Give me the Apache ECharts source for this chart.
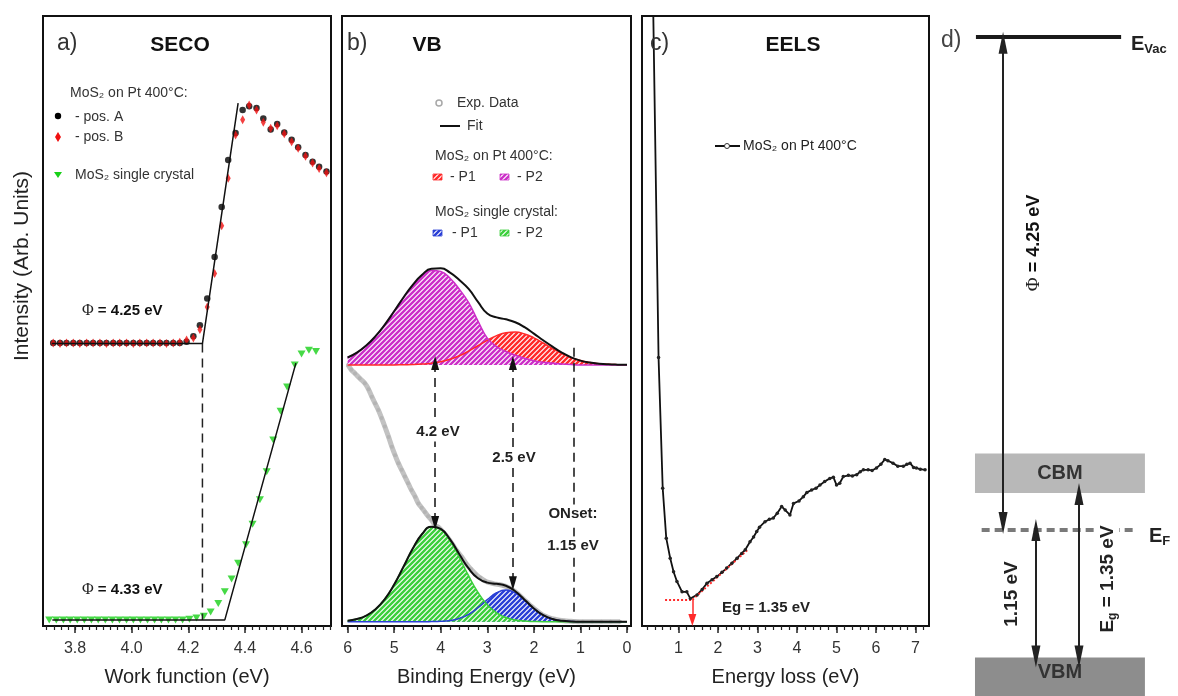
<!DOCTYPE html>
<html>
<head>
<meta charset="utf-8">
<style>
  html, body { margin: 0; padding: 0; background: #fff; }
  #chart { width: 1178px; height: 696px; }
</style>
<script src="https://cdn.jsdelivr.net/npm/echarts@6.0.0/dist/echarts.min.js"></script>
</head>
<body>
<div id="chart"></div>
<script>
// ---------- (a) SECO ----------
const secoPtX = [3.723,3.747,3.770,3.794,3.817,3.841,3.864,3.888,3.911,3.935,3.958,3.982,4.006,4.029,4.053,4.076,4.100,4.123,4.147,4.170,
  4.194,4.218,4.241,4.267,4.293,4.318,4.341,4.367,4.392,4.415,4.441,4.465,4.491,4.514,4.539,4.565,4.588,4.614,4.639,4.662,4.688];
const secoPosA = [46.4,46.4,46.4,46.4,46.4,46.4,46.4,46.4,46.4,46.4,46.4,46.4,46.4,46.4,46.4,46.4,46.4,46.4,46.4,46.4,
  46.6,47.5,49.3,53.7,60.5,68.7,76.4,80.8,84.6,85.2,84.9,83.2,81.4,82.3,80.9,79.7,78.5,77.2,76.1,75.3,74.5];
const secoPosB = [46.4,46.3,46.4,46.4,46.3,46.4,46.4,46.4,46.3,46.4,46.4,46.4,46.3,46.4,46.4,46.4,46.4,46.3,46.4,46.5,
  46.9,47.2,48.6,52.3,57.8,65.6,73.4,80.5,83.0,85.4,84.6,82.6,81.6,82.0,80.7,79.4,78.3,77.0,75.9,75.0,74.3];
const secoScX = [3.709,3.734,3.759,3.783,3.808,3.833,3.858,3.882,3.907,3.932,3.957,3.982,4.006,4.031,4.056,4.081,4.105,4.130,4.155,4.180,
  4.204,4.229,4.255,4.279,4.306,4.329,4.353,4.376,4.404,4.427,4.453,4.477,4.500,4.526,4.549,4.576,4.600,4.626,4.651];
const secoScY = [1.0,1.0,1.0,1.0,1.0,1.0,1.0,1.0,1.0,1.0,1.0,1.0,1.0,1.0,1.0,1.0,1.0,1.0,1.0,1.0,
  1.1,1.3,1.6,2.3,3.7,5.6,7.7,10.3,13.3,16.7,20.7,25.3,30.5,35.2,39.2,42.8,44.6,45.2,45.0];
const secoFitPtX = [3.718, 4.250, 4.376];
const secoFitPtY = [46.3, 46.3, 85.7];
const secoFitScX = [3.720, 4.329, 4.580];
const secoFitScY = [1.0, 1.0, 43.1];
const phiPt = 4.25;
const phiSc = 4.33;
const secoTicks = [3.8, 4.0, 4.2, 4.4, 4.6];

// ---------- (b) VB ----------
const vbX = [6.0,5.8,5.6,5.4,5.2,5.0,4.8,4.6,4.4,4.2,4.0,3.8,3.6,3.4,3.2,3.0,2.8,2.6,2.4,2.2,2.0,1.8,1.6,1.4,1.2,1.0,0.8,0.6,0.4,0.2,0.0];
const ptBase = 42.8;
const ptP2 = [1.21,2.01,3.17,4.71,6.61,8.79,11.03,13.07,14.64,15.49,15.3,14.2,12.4,10.2,7.2,4.4,3.0,2.2,1.6,1.1,0.7,0.45,0.3,0.15,0.05,0,0,0,0,0,0];
const ptP1 = [0,0,0,0,0,0,0.03,0.06,0.14,0.28,0.53,0.93,1.51,2.26,3.14,4.03,4.80,5.28,5.39,5.08,4.44,3.59,2.69,1.87,1.20,0.71,0.39,0.20,0.09,0.04,0.02];
const ptFit = [44.01,44.81,45.97,47.51,49.41,51.59,53.86,55.93,57.58,58.57,58.63,57.93,56.71,55.26,53.14,51.23,50.60,50.28,49.79,48.98,47.94,46.84,45.79,44.82,44.05,43.51,43.19,43.00,42.89,42.84,42.82];
const ptExpX = [5.99,5.92,5.84,5.79,5.74,5.68,5.63,5.57,5.52,5.45,5.40,5.34,5.29,5.24,5.18,5.13,5.05,5.00,4.95,4.89,4.84,4.78,4.73,4.68,4.63,4.57,4.52,4.45,4.38,4.30,4.23,4.17,4.12,
  4.05,3.95,3.85,3.75,3.65,3.55,3.45,3.35,3.25,3.15,3.05,2.95,2.85,2.75,2.65,2.55,2.45,2.35,2.25,2.15,2.05,1.95,1.85,1.75,1.65,1.55,1.45,1.35,1.25,1.15,1.05,0.95,0.85,0.75,0.65,0.55,0.45,0.35,0.25,0.15,0.05];
const ptExpY = [95.0,94.0,92.8,91.8,90.9,89.5,87.9,87.3,86.8,84.9,82.8,81.0,80.2,79.4,78.2,76.9,74.8,73.9,72.8,71.7,70.4,69.0,67.7,66.2,64.9,64.0,63.3,62.3,61.4,60.5,59.7,59.1,58.6,
  58.5,58.2,57.7,57.2,56.4,55.6,54.8,53.8,52.8,52.0,51.5,51.2,51.0,50.9,50.7,50.4,50.0,49.5,48.8,47.9,47.0,46.2,45.5,44.8,44.3,43.9,43.5,43.2,43.0,42.9,42.9,42.8,42.8,42.8,42.8,42.8,42.8,42.8,42.8,42.8,42.8];
const scBase = 0.7;
const scP2 = [0.18,0.45,1.01,2.05,3.72,6.10,9.01,11.99,14.38,15.55,15.15,13.30,10.53,7.51,4.82,2.79,1.46,0.69,0.29,0.11,0.04,0,0,0,0,0,0,0,0,0,0];
const scP1 = [0,0,0,0,0,0,0,0,0,0.02,0.06,0.20,0.54,1.22,2.30,3.62,4.75,5.20,4.71,3.50,2.14,1.07,0.44,0.15,0.04,0,0,0,0,0,0];
const scFit = [0.88,1.15,1.71,2.75,4.42,6.80,9.71,12.69,15.08,16.27,15.91,14.20,11.77,9.43,7.82,7.11,6.91,6.59,5.70,4.31,2.88,1.77,1.14,0.85,0.74,0.7,0.7,0.7,0.7,0.7,0.7];
const scExpX = [5.99,5.92,5.84,5.74,5.63,5.55,5.48,5.41,5.34,5.27,5.20,5.12,5.05,4.98,4.91,4.84,4.77,4.70,4.63,4.55,4.48,4.41,4.34,4.27,4.20,4.12,
  4.05,3.95,3.85,3.75,3.65,3.55,3.45,3.35,3.25,3.15,3.05,2.95,2.85,2.75,2.65,2.55,2.45,2.35,2.25,2.15,2.05,1.95,1.85,1.75,1.65,1.55,1.45,1.35,1.25,1.15,1.05,0.95,0.75,0.55,0.35,0.15];
const scExpY = [42.8,42.0,41.4,40.6,39.8,38.8,37.6,36.5,35.4,34.1,32.7,31.0,29.4,28.0,26.7,25.6,24.5,23.4,22.3,21.2,20.1,19.4,18.7,18.0,17.4,16.5,
  16.2,15.4,14.5,13.4,12.3,11.3,10.2,9.3,8.5,7.9,7.4,7.1,6.9,6.8,6.6,6.3,5.9,5.3,4.6,3.9,3.2,2.6,2.0,1.6,1.3,1.1,0.95,0.85,0.8,0.75,0.7,0.7,0.7,0.7,0.7,0.7];
const vbArrowX = [4.12, 2.45];
const vbArrowTop = [43.1, 43.1];
const vbArrowBottom = [16.9, 7.0];
const onsetBE = 1.15;
const onsetSpan = [45.6, 1.5];
const vbTicks = [0, 1, 2, 3, 4, 5, 6];

// ---------- (c) EELS ----------
const eelsX = [0.36,0.495,0.60,0.69,0.79,0.875,0.96,1.09,1.21,1.30,1.47,1.60,1.72,1.85,1.97,2.10,2.22,2.35,2.48,2.60,2.69,2.81,2.90,2.98,3.05,3.19,3.30,3.40,3.50,3.61,3.70,3.82,3.91,4.05,4.16,4.25,4.37,4.48,4.58,4.70,4.83,4.92,5.00,5.08,5.17,5.30,5.40,5.51,5.60,5.68,5.80,5.90,6.01,6.12,6.22,6.30,6.43,6.55,6.69,6.78,6.86,6.95,7.02,7.12,7.24];
const eelsY = [101,44.0,22.6,14.4,11.1,8.9,7.3,5.6,5.6,4.5,5.1,6.0,7.0,7.6,8.1,8.8,9.5,10.3,11.1,11.9,12.5,13.8,14.6,15.5,16.2,17.1,17.5,17.7,18.5,19.6,19.0,18.2,20.1,20.5,21.2,21.9,22.3,22.6,23.1,23.7,24.2,24.4,23.1,23.4,24.5,24.7,24.6,24.8,25.3,25.6,25.6,25.5,25.9,26.5,27.3,27.1,26.7,26.2,26.2,26.5,26.7,26.0,25.9,25.7,25.6];
const eelsFlatX = [0.66, 1.35];
const eelsFlatY = [4.26, 4.26];
const eelsSlopeX = [1.35, 2.75];
const eelsSlopeY = [4.3, 12.5];
const eelsGap = 1.35;
const eelsTicks = [1, 2, 3, 4, 5, 6, 7];

// ---------- (d) band diagram ----------
const eVacLevel = 4.25;
const eFLevel = 0;
const cbmBand = [0.32, 0.66];
const vbmBand = [-1.5, -1.10];
const phiArrowSpan = [4.20, 0.06];
const onsetArrowSpan = [0.0, -1.09];
const gapArrowSpan = [0.31, -1.09];

const FONT = '"Liberation Sans", Arial, sans-serif';
const zip = (xs, ys) => xs.map((x, i) => [x, ys[i]]);
const lift = (base, ys) => vbX.map((x, i) => [x, base + ys[i]]);

function hatch(color) {
  const c = document.createElement('canvas');
  c.width = 5; c.height = 5;
  const g = c.getContext('2d');
  g.fillStyle = '#fff';
  g.fillRect(0, 0, 5, 5);
  g.strokeStyle = color;
  g.lineWidth = 2.4;
  g.beginPath();
  g.moveTo(-1, 1); g.lineTo(1, -1);
  g.moveTo(0, 5); g.lineTo(5, 0);
  g.moveTo(4, 6); g.lineTo(6, 4);
  g.stroke();
  return { image: c, repeat: 'repeat' };
}
const magenta = '#cc2fc8', red = '#ff2a2a', blue = '#2a3fd6', green = '#3ccf3c';

function range(a, b, step) {
  const out = [];
  for (let v = a; v <= b + 1e-9; v += step) out.push(+v.toFixed(3));
  return out;
}

function majorAxis(grid, min, max, ticks, name, dec, inverse) {
  return {
    type: 'value', gridIndex: grid, min, max, inverse: !!inverse, position: 'bottom',
    name, nameLocation: 'middle', nameGap: 41,
    nameTextStyle: { fontSize: 20, color: '#222', fontFamily: FONT },
    axisLine: { show: false }, splitLine: { show: false },
    axisTick: { show: true, customValues: ticks, length: 7, lineStyle: { color: '#222', width: 1.5 } },
    axisLabel: { customValues: ticks, formatter: v => Number(v).toFixed(dec), fontSize: 16, color: '#333', margin: 15, fontFamily: FONT }
  };
}
function minorAxis(grid, min, max, ticks, inverse) {
  return {
    type: 'value', gridIndex: grid, min, max, inverse: !!inverse, position: 'bottom',
    axisLine: { show: false }, splitLine: { show: false },
    axisTick: { show: true, customValues: ticks, length: 4, lineStyle: { color: '#222', width: 1.2 } },
    axisLabel: { show: false }
  };
}

const chart = echarts.init(document.getElementById('chart'));

const arrowLine = { symbol: ['triangle', 'triangle'], symbolSize: [8, 14] };

chart.setOption({
  animation: false,
  backgroundColor: '#fff',
  grid: [
    { left: 43, top: 16, width: 288, height: 610, show: true, borderColor: '#111', borderWidth: 2 },
    { left: 342, top: 16, width: 289, height: 610, show: true, borderColor: '#111', borderWidth: 2 },
    { left: 642, top: 16, width: 287, height: 610, show: true, borderColor: '#111', borderWidth: 2 },
    { left: 940, top: 16, width: 238, height: 680, show: false }
  ],
  xAxis: [
    majorAxis(0, 3.687, 4.704, secoTicks, 'Work function (eV)', 1),
    minorAxis(0, 3.687, 4.704, range(3.7, 4.7, 0.025)),
    majorAxis(1, -0.086, 6.12, vbTicks, 'Binding Energy (eV)', 0, true),
    minorAxis(1, -0.086, 6.12, range(0, 6, 0.2), true),
    majorAxis(2, 0.076, 7.34, eelsTicks, 'Energy loss (eV)', 0),
    minorAxis(2, 0.076, 7.34, range(0.2, 7.2, 0.2)),
    { type: 'value', gridIndex: 3, min: 0, max: 10, show: false }
  ],
  yAxis: [
    { type: 'value', gridIndex: 0, min: 0, max: 100, show: false },
    { type: 'value', gridIndex: 1, min: 0, max: 100, show: false },
    { type: 'value', gridIndex: 2, min: 0, max: 100, show: false },
    { type: 'value', gridIndex: 3, min: -1.431, max: 4.431, show: false }
  ],
  series: [
    // (a)
    { type: 'line', xAxisIndex: 0, yAxisIndex: 0, data: [[phiPt, secoFitPtY[0]], [phiPt, secoFitScY[0]]],
      symbol: 'none', lineStyle: { color: '#222', width: 1.5, type: [9, 6] } },
    { type: 'scatter', xAxisIndex: 0, yAxisIndex: 0, data: zip(secoPtX, secoPosA),
      symbol: 'circle', symbolSize: 6.5, itemStyle: { color: '#000' } },
    { type: 'scatter', xAxisIndex: 0, yAxisIndex: 0, data: zip(secoPtX, secoPosB),
      symbol: 'diamond', symbolSize: [5, 9], itemStyle: { color: '#f01010' } },
    { type: 'scatter', xAxisIndex: 0, yAxisIndex: 0, data: zip(secoScX, secoScY),
      symbol: 'triangle', symbolRotate: 180, symbolSize: [8, 7], itemStyle: { color: '#18d018' } },
    { type: 'line', xAxisIndex: 0, yAxisIndex: 0, data: zip(secoFitPtX, secoFitPtY), z: 5,
      symbol: 'none', lineStyle: { color: '#111', width: 1.5 } },
    { type: 'line', xAxisIndex: 0, yAxisIndex: 0, data: zip(secoFitScX, secoFitScY), z: 5,
      symbol: 'none', lineStyle: { color: '#111', width: 1.5 } },

    // (b) experimental data
    { type: 'scatter', xAxisIndex: 2, yAxisIndex: 1, data: zip(ptExpX, ptExpY), z: 1,
      symbol: 'emptyCircle', symbolSize: 5, itemStyle: { color: '#fff', borderColor: '#a8a8a8', borderWidth: 1.5 } },
    { type: 'line', xAxisIndex: 2, yAxisIndex: 1, data: zip(scExpX, scExpY), smooth: true, z: 1,
      symbol: 'circle', symbolSize: 4, showAllSymbol: true,
      lineStyle: { color: '#c2c2c2', width: 5 }, itemStyle: { color: '#b4b4b4' } },
    // (b) components
    { type: 'line', xAxisIndex: 2, yAxisIndex: 1, data: lift(ptBase, ptP1), smooth: true, symbol: 'none', z: 2,
      lineStyle: { color: red, width: 1.5 }, areaStyle: { color: hatch(red), opacity: 1, origin: ptBase } },
    { type: 'line', xAxisIndex: 2, yAxisIndex: 1, data: lift(ptBase, ptP2), smooth: true, symbol: 'none', z: 2,
      lineStyle: { color: magenta, width: 1.5 }, areaStyle: { color: hatch(magenta), opacity: 1, origin: ptBase } },
    { type: 'line', xAxisIndex: 2, yAxisIndex: 1, data: lift(scBase, scP1), smooth: true, symbol: 'none', z: 2,
      lineStyle: { color: blue, width: 1.5 }, areaStyle: { color: hatch(blue), opacity: 1, origin: scBase } },
    { type: 'line', xAxisIndex: 2, yAxisIndex: 1, data: lift(scBase, scP2), smooth: true, symbol: 'none', z: 2,
      lineStyle: { color: green, width: 1.5 }, areaStyle: { color: hatch(green), opacity: 1, origin: scBase } },
    // (b) fits
    { type: 'line', xAxisIndex: 2, yAxisIndex: 1, data: zip(vbX, ptFit), smooth: true, symbol: 'none', z: 4,
      lineStyle: { color: '#111', width: 2 } },
    { type: 'line', xAxisIndex: 2, yAxisIndex: 1, data: zip(vbX, scFit), smooth: true, symbol: 'none', z: 4,
      lineStyle: { color: '#111', width: 2 },
      markLine: {
        silent: true, ...arrowLine, label: { show: false },
        lineStyle: { color: '#111', width: 1.5, type: [9, 6] },
        data: [
          ...vbArrowX.map((x, i) => [{ coord: [x, vbArrowTop[i]] }, { coord: [x, vbArrowBottom[i]] }]),
          [{ coord: [onsetBE, onsetSpan[0]], symbol: 'none' }, { coord: [onsetBE, onsetSpan[1]], symbol: 'none' }]
        ]
      } },

    // (c)
    { type: 'line', xAxisIndex: 4, yAxisIndex: 2, data: zip(eelsX, eelsY), symbol: 'circle', symbolSize: 3.5,
      showAllSymbol: true, lineStyle: { color: '#111', width: 1.8 }, itemStyle: { color: '#222' } },
    { type: 'line', xAxisIndex: 4, yAxisIndex: 2, data: zip(eelsFlatX, eelsFlatY), symbol: 'none',
      lineStyle: { color: red, width: 2, type: [2, 2] } },
    { type: 'line', xAxisIndex: 4, yAxisIndex: 2, data: zip(eelsSlopeX, eelsSlopeY), symbol: 'none',
      lineStyle: { color: red, width: 2, type: [2, 2] },
      markLine: {
        silent: true, symbol: ['none', 'triangle'], symbolSize: [8, 12], label: { show: false },
        lineStyle: { color: red, width: 1.5, type: 'solid' },
        data: [[{ coord: [eelsGap, eelsFlatY[1]] }, { coord: [eelsGap, 1.0] }]]
      } },

    // (d)
    { type: 'line', xAxisIndex: 6, yAxisIndex: 3, data: [], symbol: 'none',
      markArea: {
        silent: true,
        data: [
          [{ coord: [1.47, cbmBand[0]], itemStyle: { color: '#b8b8b8' },
             label: { show: true, position: 'inside', formatter: 'CBM', fontSize: 20, fontWeight: 'bold', color: '#333', fontFamily: FONT } },
           { coord: [8.61, cbmBand[1]] }],
          [{ coord: [1.47, vbmBand[0]], itemStyle: { color: '#8d8d8d' },
             label: { show: true, position: 'inside', formatter: 'VBM', fontSize: 20, fontWeight: 'bold', color: '#333', fontFamily: FONT, offset: [0, -4] } },
           { coord: [8.61, vbmBand[1]] }]
        ]
      },
      markLine: {
        silent: true, label: { show: false }, symbol: 'none',
        data: [
          [{ coord: [1.51, eVacLevel], lineStyle: { color: '#1a1a1a', width: 4, type: 'solid' } }, { coord: [7.61, eVacLevel] }],
          [{ coord: [1.75, eFLevel], lineStyle: { color: '#7a7a7a', width: 4, type: [8, 5] } }, { coord: [8.11, eFLevel] }],
          [{ coord: [2.65, phiArrowSpan[0]], symbol: 'triangle', symbolSize: [9, 22], lineStyle: { color: '#222', width: 2, type: 'solid' } },
           { coord: [2.65, phiArrowSpan[1]], symbol: 'triangle', symbolSize: [9, 22] }],
          [{ coord: [4.03, onsetArrowSpan[0]], symbol: 'triangle', symbolSize: [9, 22], lineStyle: { color: '#222', width: 2, type: 'solid' } },
           { coord: [4.03, onsetArrowSpan[1]], symbol: 'triangle', symbolSize: [9, 22] }],
          [{ coord: [5.84, gapArrowSpan[0]], symbol: 'triangle', symbolSize: [9, 22], lineStyle: { color: '#222', width: 2, type: 'solid' } },
           { coord: [5.84, gapArrowSpan[1]], symbol: 'triangle', symbolSize: [9, 22] }]
        ]
      } }
  ],
  graphic: buildText()
});

function buildText() {
  const els = [];
  const t = (x, y, text, o = {}) => els.push({
    type: 'text', x, y, rotation: o.rot || 0, z: 100, silent: true,
    style: {
      text, fill: o.color || '#222', fontFamily: o.family || FONT, fontSize: o.size || 14,
      fontWeight: o.weight || 'normal', align: o.align || 'left', verticalAlign: 'middle',
      rich: o.rich, backgroundColor: o.bg, padding: o.pad
    }
  });
  const phiRich = (size) => ({
    p: { fontFamily: '"Liberation Serif", serif', fontSize: size + 1, fontWeight: 'normal', fill: '#222' },
    b: { fontFamily: FONT, fontSize: size, fontWeight: 'bold', fill: '#111' }
  });
  const hatchRect = (x, y, color) => els.push({ type: 'rect', z: 100, silent: true,
    shape: { x, y, width: 9, height: 6 }, style: { fill: hatch(color), stroke: color, lineWidth: 0.8 } });

  // y-axis title
  t(22, 266, 'Intensity (Arb. Units)', { size: 21, rot: Math.PI / 2, align: 'center', color: '#222' });

  // (a)
  t(57, 44, 'a)', { size: 23, color: '#333' });
  t(180, 45, 'SECO', { size: 21, weight: 'bold', align: 'center', color: '#111' });
  t(70, 93, 'MoS₂ on Pt 400°C:', { size: 14, color: '#333' });
  els.push({ type: 'circle', z: 100, silent: true, shape: { cx: 58, cy: 116, r: 3.2 }, style: { fill: '#000' } });
  t(75, 117, '- pos. A', { size: 14, color: '#333' });
  els.push({ type: 'polygon', z: 100, silent: true, shape: { points: [[58, 132], [61, 137], [58, 142], [55, 137]] }, style: { fill: '#f01010' } });
  t(75, 137, '- pos. B', { size: 14, color: '#333' });
  els.push({ type: 'polygon', z: 100, silent: true, shape: { points: [[54, 172], [62, 172], [58, 178]] }, style: { fill: '#18d018' } });
  t(75, 175, 'MoS₂ single crystal', { size: 14, color: '#333' });
  t(82, 311, '{p|Φ}{b| = 4.25 eV}', { rich: phiRich(15) });
  t(82, 590, '{p|Φ}{b| = 4.33 eV}', { rich: phiRich(15) });

  // (b)
  t(347, 44, 'b)', { size: 23, color: '#333' });
  t(427, 45, 'VB', { size: 21, weight: 'bold', align: 'center', color: '#111' });
  els.push({ type: 'circle', z: 100, silent: true, shape: { cx: 439, cy: 103, r: 3 }, style: { fill: '#fff', stroke: '#a8a8a8', lineWidth: 1.5 } });
  t(457, 103, 'Exp. Data', { size: 14, color: '#333' });
  els.push({ type: 'line', z: 100, silent: true, shape: { x1: 440, y1: 126, x2: 460, y2: 126 }, style: { stroke: '#111', lineWidth: 2 } });
  t(467, 126, 'Fit', { size: 14, color: '#333' });
  t(435, 156, 'MoS₂ on Pt 400°C:', { size: 14, color: '#333' });
  hatchRect(433, 174, red);
  t(450, 177, '- P1', { size: 14, color: '#333' });
  hatchRect(500, 174, magenta);
  t(517, 177, '- P2', { size: 14, color: '#333' });
  t(435, 212, 'MoS₂ single crystal:', { size: 14, color: '#333' });
  hatchRect(433, 230, blue);
  t(452, 233, '- P1', { size: 14, color: '#333' });
  hatchRect(500, 230, green);
  t(517, 233, '- P2', { size: 14, color: '#333' });
  t(438, 432, '4.2 eV', { size: 15, weight: 'bold', align: 'center', bg: '#fff', pad: [2, 2] });
  t(514, 458, '2.5 eV', { size: 15, weight: 'bold', align: 'center', bg: '#fff', pad: [2, 2] });
  t(573, 514, 'ONset:', { size: 15, weight: 'bold', align: 'center', bg: '#fff', pad: [2, 2] });
  t(573, 546, '1.15 eV', { size: 15, weight: 'bold', align: 'center', bg: '#fff', pad: [2, 2] });

  // (c)
  t(650, 44, 'c)', { size: 23, color: '#333' });
  t(793, 45, 'EELS', { size: 21, weight: 'bold', align: 'center', color: '#111' });
  els.push({ type: 'line', z: 100, silent: true, shape: { x1: 715, y1: 146, x2: 740, y2: 146 }, style: { stroke: '#111', lineWidth: 2 } });
  els.push({ type: 'circle', z: 101, silent: true, shape: { cx: 727, cy: 146, r: 2.5 }, style: { fill: '#fff', stroke: '#333', lineWidth: 1 } });
  t(743, 146, 'MoS₂ on Pt 400°C', { size: 14, color: '#222' });
  t(766, 608, 'Eg = 1.35 eV', { size: 15, weight: 'bold', align: 'center', bg: '#fff', pad: [2, 4] });

  // (d)
  t(941, 41, 'd)', { size: 23, color: '#444' });
  const eRich = { e: { fontSize: 20, fontWeight: 'bold', fill: '#222', fontFamily: FONT },
                  s: { fontSize: 13, fontWeight: 'bold', fill: '#222', fontFamily: FONT, padding: [10, 0, 0, 0] } };
  t(1131, 44, '{e|E}{s|Vac}', { rich: eRich });
  t(1149, 536, '{e|E}{s|F}', { rich: eRich });
  t(1034, 243, '{p|Φ}{b| = 4.25 eV}', { rot: Math.PI / 2, align: 'center', rich: phiRich(18) });
  t(1012, 594, '1.15 eV', { size: 19, weight: 'bold', rot: Math.PI / 2, align: 'center', color: '#222' });
  t(1108, 579, '{e|E}{s|g}{e| = 1.35 eV}', { rot: Math.PI / 2, align: 'center', bg: '#fff', rich: {
    e: { fontSize: 19, fontWeight: 'bold', fill: '#222', fontFamily: FONT },
    s: { fontSize: 12, fontWeight: 'bold', fill: '#222', fontFamily: FONT, padding: [10, 0, 0, 0] } } });
  return els;
}
</script>
</body>
</html>
